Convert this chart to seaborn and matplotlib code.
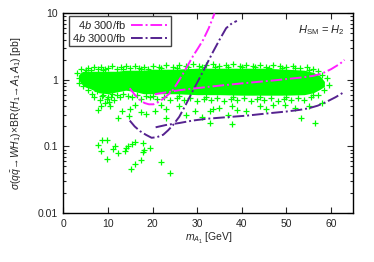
import numpy as np
import pandas as pd
import seaborn as sns
import matplotlib.pyplot as plt
from matplotlib.ticker import FixedLocator, LogLocator, NullFormatter

# 300/fb curves (two branches)
m300_a_x = [14.9, 16, 17.2, 18.2, 19.2, 20.2, 21.2, 22.4, 23.5, 24.6, 25.8, 26.9, 28, 29.1, 30.2, 31.3, 32.6, 33.9]
m300_a_y = [0.75, 0.6, 0.5, 0.45, 0.43, 0.43, 0.46, 0.52, 0.6, 0.71, 0.95, 1.26, 1.7, 2.3, 3.0, 3.95, 6.0, 10]
m300_b_x = [20.5, 23, 26, 29, 32, 35, 38, 41, 44, 47, 50, 53, 56, 58, 60, 62, 63]
m300_b_y = [0.61, 0.65, 0.7, 0.74, 0.78, 0.82, 0.86, 0.9, 0.94, 0.98, 1.03, 1.08, 1.15, 1.25, 1.45, 1.75, 2.0]

# 3000/fb curves (two branches)
m3000_a_x = [14.9, 16, 17.2, 18.5, 19.8, 21, 22.4, 23.5, 24.6, 26, 27.5, 29, 30.5, 32, 33.5, 35, 36.5, 37.8, 38.9]
m3000_a_y = [0.245, 0.2, 0.17, 0.15, 0.135, 0.138, 0.15, 0.175, 0.21, 0.28, 0.43, 0.68, 1.05, 1.65, 2.6, 4.0, 6.0, 7.1, 7.7]
m3000_b_x = [20.7, 23, 26, 29, 32, 35, 38, 41, 44, 47, 50, 53, 55, 57, 59, 61, 62.8]
m3000_b_y = [0.194, 0.21, 0.225, 0.245, 0.26, 0.27, 0.28, 0.29, 0.305, 0.32, 0.335, 0.355, 0.375, 0.41, 0.47, 0.55, 0.65]

# dense core of the scan points
band_x = [3.5, 4, 5, 6, 8, 10, 12, 14, 16, 18, 20, 25, 30, 35, 40, 45, 50, 54, 56, 57.5, 58.5]
band_hi = [1.2, 1.3, 1.35, 1.35, 1.35, 1.35, 1.35, 1.4, 1.4, 1.4, 1.45, 1.45, 1.5, 1.5, 1.5, 1.5, 1.45, 1.4, 1.3, 1.15, 0.95]
band_lo = [1.0, 0.88, 0.78, 0.74, 0.64, 0.62, 0.66, 0.7, 0.67, 0.62, 0.62, 0.62, 0.6, 0.6, 0.59, 0.59, 0.59, 0.6, 0.64, 0.72, 0.8]

# scan points on the edges and outside the core
top_x = [3.0, 3.5, 4.0, 4.8, 5.5, 6.2, 7.0, 7.8, 8.5, 9.3, 10.0, 11.0, 12.0, 13.0, 14.0, 15.0, 16.0, 17.0,
         18.0, 19.0, 20.0, 21.5, 23.0, 24.5, 26.0, 27.5, 29.0, 30.5, 32.0, 33.5, 35.0, 36.5, 38.0, 39.5,
         41.0, 42.5, 44.0, 45.5, 47.0, 48.5, 50.0, 51.5, 53.0, 54.5, 56.0, 57.0, 58.0, 59.0, 59.5,
         5.0, 9.0, 13.5, 17.5, 22.0, 25.5, 28.0, 31.0, 34.0, 37.0, 40.0, 43.0, 46.0, 49.0, 52.0, 55.0]
top_y = [1.25, 1.05, 1.45, 1.3, 1.5, 1.42, 1.55, 1.45, 1.58, 1.48, 1.52, 1.6, 1.47, 1.55, 1.6, 1.5, 1.62, 1.52,
         1.58, 1.48, 1.64, 1.58, 1.68, 1.56, 1.7, 1.6, 1.75, 1.62, 1.7, 1.74, 1.6, 1.68, 1.75, 1.62,
         1.7, 1.6, 1.68, 1.58, 1.7, 1.62, 1.58, 1.64, 1.52, 1.55, 1.45, 1.35, 1.2, 1.05, 0.85,
         1.4, 1.42, 1.45, 1.48, 1.5, 1.52, 1.55, 1.55, 1.56, 1.55, 1.55, 1.54, 1.52, 1.52, 1.5, 1.42]
bot_x = [3.5, 4.5, 5.5, 6.5, 7.0, 7.5, 8.2, 8.8, 9.3, 9.8, 10.3, 10.8, 11.3, 12.0, 12.8, 13.5, 14.5, 15.5,
         16.5, 17.5, 18.5, 19.5, 21.0, 22.5, 24.0, 25.5, 27.0, 28.5, 30.0, 31.5, 33.0, 34.5, 36.0, 37.5,
         39.0, 40.5, 42.0, 43.5, 45.0, 46.5, 48.0, 49.5, 51.0, 52.5, 54.0, 55.5, 57.0, 58.5,
         9.0, 10.0, 11.0, 8.5, 20.0, 26.0, 32.0, 38.0, 44.0, 50.0, 56.0]
bot_y = [0.9, 0.8, 0.7, 0.62, 0.55, 0.68, 0.5, 0.58, 0.45, 0.52, 0.47, 0.55, 0.5, 0.6, 0.55, 0.62, 0.58, 0.55,
         0.6, 0.52, 0.58, 0.55, 0.52, 0.55, 0.5, 0.53, 0.5, 0.54, 0.48, 0.52, 0.5, 0.53, 0.49, 0.52,
         0.5, 0.53, 0.48, 0.52, 0.5, 0.53, 0.49, 0.52, 0.5, 0.53, 0.5, 0.55, 0.6, 0.7,
         0.6, 0.55, 0.62, 0.4, 0.58, 0.57, 0.56, 0.56, 0.56, 0.56, 0.6]
mid_x = [7.8, 10.5, 13.1, 14.9, 14.8, 17.5, 18.5, 20.5, 23.1, 23.1, 12.3, 16.0, 22.0, 26.0, 29.5, 31.0, 32.8,
         33.5, 37.7, 36.9, 37.7, 32.8, 41.0, 44.0, 47.0, 49.6, 52.0, 53.3, 56.3, 27.5, 35.0, 39.0, 45.5, 55.0, 58.0]
mid_y = [0.35, 0.4, 0.34, 0.36, 0.29, 0.33, 0.31, 0.34, 0.36, 0.27, 0.27, 0.42, 0.42, 0.4, 0.34, 0.28, 0.34,
         0.36, 0.4, 0.3, 0.22, 0.225, 0.34, 0.4, 0.42, 0.42, 0.38, 0.27, 0.225, 0.3, 0.38, 0.35, 0.36, 0.4, 0.45]
low_x = [7.8, 8.6, 9.7, 8.4, 9.8, 11.6, 11.2, 12.2, 13.8, 14.0, 14.5, 15.3, 16.0, 15.1, 16.0, 17.5, 17.9,
         18.1, 17.9, 19.4, 22.0, 24.0]
low_y = [0.107, 0.127, 0.127, 0.085, 0.065, 0.1, 0.092, 0.079, 0.085, 0.095, 0.103, 0.11, 0.116, 0.046, 0.055,
         0.063, 0.082, 0.09, 0.113, 0.095, 0.059, 0.04]

green = "#00ff00"
magenta = "#ff20ff"
purple = "#55228f"

sns.set_style("ticks")
plt.rcParams["font.family"] = ["Liberation Sans", "DejaVu Sans"]
plt.rcParams["mathtext.fontset"] = "custom"
plt.rcParams["mathtext.rm"] = "Liberation Sans"
plt.rcParams["mathtext.it"] = "Liberation Sans:italic"
plt.rcParams["mathtext.bf"] = "Liberation Sans:bold"
plt.rcParams["font.size"] = 7.5

fig = plt.figure(figsize=(3.74, 2.62), dpi=100)
ax = fig.add_axes([0.169, 0.187, 0.776, 0.762])

ax.fill_between(band_x, band_lo, band_hi, color=green, linewidth=0, zorder=1)
pts = pd.DataFrame({
    "x": top_x + bot_x + mid_x + low_x,
    "y": top_y + bot_y + mid_y + low_y,
})
sns.scatterplot(data=pts, x="x", y="y", marker="+", color=green, s=15, linewidth=0.9,
                ax=ax, zorder=2, legend=False)

dash = (6, 1.5, 1, 1.5)
curves = [
    (m300_a_x, m300_a_y, magenta, r"$4b$ 300/fb"),
    (m3000_a_x, m3000_a_y, purple, r"$4b$ 3000/fb"),
    (m300_b_x, m300_b_y, magenta, None),
    (m3000_b_x, m3000_b_y, purple, None),
]
for cx, cy, col, lab in curves:
    line = pd.DataFrame({"x": cx, "y": cy})
    sns.lineplot(data=line, x="x", y="y", sort=False, estimator=None, color=col,
                 linewidth=1.4, label=lab, ax=ax, zorder=3, dashes=False)
    ax.lines[-1].set_dashes(dash)

ax.set_yscale("log")
ax.set_xlim(0, 65)
ax.set_ylim(0.01, 10)
ax.xaxis.set_major_locator(FixedLocator([0, 10, 20, 30, 40, 50, 60]))
ax.set_yticks([0.01, 0.1, 1, 10])
ax.set_yticklabels(["0.01", "0.1", "1", "10"])
ax.yaxis.set_minor_locator(LogLocator(base=10, subs=np.arange(2, 10)))
ax.yaxis.set_minor_formatter(NullFormatter())
ax.tick_params(which="both", direction="in", top=True, right=True, labelsize=7.5, width=0.8)
ax.tick_params(which="major", length=4, pad=4)
ax.tick_params(which="minor", length=2)
for sp in ax.spines.values():
    sp.set_linewidth(1)
    sp.set_color("black")

ax.set_xlabel(r"$m_{A_1}$ [GeV]", fontsize=7.5, labelpad=2)
ax.set_ylabel(r"$\sigma(q\bar{q}\!\rightarrow\!WH_1)\!\times\!$BR$(H_1\!\rightarrow\!A_1\,A_1)$ [pb]",
              fontsize=7.5, labelpad=10)

ax.text(0.97, 0.95, r"$H_{\rm SM}$ = $H_2$", transform=ax.transAxes, ha="right", va="top", fontsize=8)

leg = ax.legend(loc="upper left", bbox_to_anchor=(0.02, 0.985), borderaxespad=0, markerfirst=False,
                fancybox=False, framealpha=1, edgecolor="#444444", fontsize=8, handlelength=3.3,
                labelspacing=0.05, borderpad=0.25, handletextpad=0.5)
leg.get_frame().set_linewidth(1)

fig.savefig("out.png", dpi=100, facecolor="white")
